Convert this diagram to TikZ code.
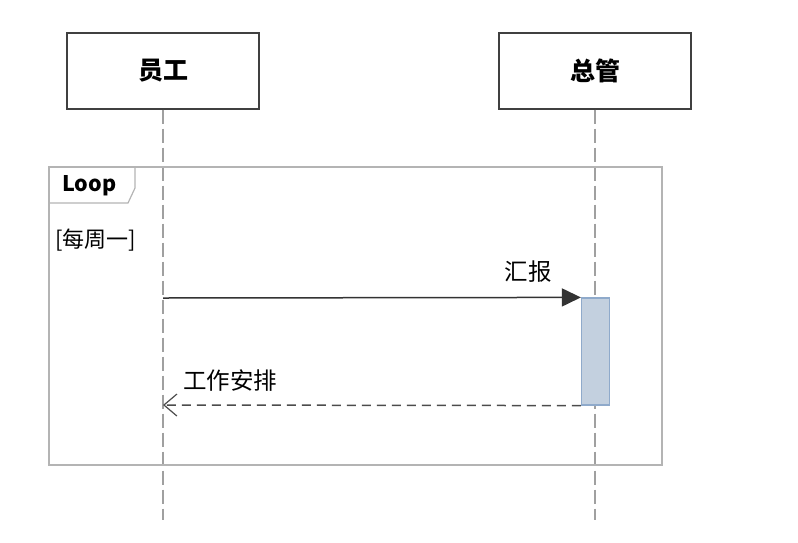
\documentclass[tikz,border=0pt]{standalone}
\usepackage{fontspec}
\setmainfont{Noto Sans CJK SC}
\usetikzlibrary{arrows.meta, positioning, calc}
\definecolor{lifegray}{HTML}{A0A0A0}
\definecolor{framegray}{HTML}{B4B4B4}
\definecolor{actfill}{HTML}{C3D0DF}
\definecolor{actdraw}{HTML}{8FAACB}

\begin{document}
\begin{tikzpicture}[
    x=1pt, y=-1pt,
    actor/.style={draw=black!75, line width=1.2pt, minimum width=192pt, minimum height=76pt, font=\fontsize{25}{28}\selectfont\bfseries, inner sep=0pt},
    lifeline/.style={draw=lifegray, line width=1.2pt, dash pattern=on 14pt off 5pt},
    msg/.style={draw=black!80, line width=1.5pt, -{Triangle[length=19pt, width=18pt]}},
    reply/.style={draw=black!70, line width=1.5pt, dash pattern=on 9pt off 6pt, -{Straight Barb[length=13pt, width=22pt, line width=1.2pt]}},
    msglabel/.style={font=\fontsize{23.5}{28}\selectfont, inner sep=1pt},
]
\useasboundingbox (0,0) rectangle (798,542);

% Actors
\node[actor] (staff) at (163,71) {员工};
\node[actor] (boss) at (595,71) {总管};

% Lifelines
\coordinate (staffend) at (163,520);
\coordinate (bossend) at (595,520);
\draw[lifeline] (staff.south) -- (staffend);
\draw[lifeline] (boss.south) -- (bossend);

% Loop frame
\draw[framegray, line width=1.2pt] (49,167) rectangle (662,465);
\draw[framegray, line width=1.2pt] (49,203) -- (128,203) -- (135,188) -- (135,167);
\node[font=\fontsize{21.5}{24}\selectfont\bfseries, anchor=west, inner sep=0pt] (looptag) at (62,186) {Loop};
\node[font=\fontsize{22}{26}\selectfont, anchor=west, inner sep=0pt] (guard) at (55,240) {[每周一]};

% Activation
\node[draw=actdraw, fill=actfill, line width=1.2pt, minimum width=28pt, minimum height=107pt, inner sep=0pt] (act) at (595.5,351.5) {};

% Messages
\coordinate (sendstart) at (163,298);
\coordinate (replyend) at (163,405);
\draw[msg] (sendstart) -- (act.north west);
\node[msglabel] (reportlbl) at (528,272) {汇报};
\draw[reply] (act.south west) -- (replyend);
\node[msglabel] (planlbl) at (230,381) {工作安排};
\end{tikzpicture}
\end{document}
